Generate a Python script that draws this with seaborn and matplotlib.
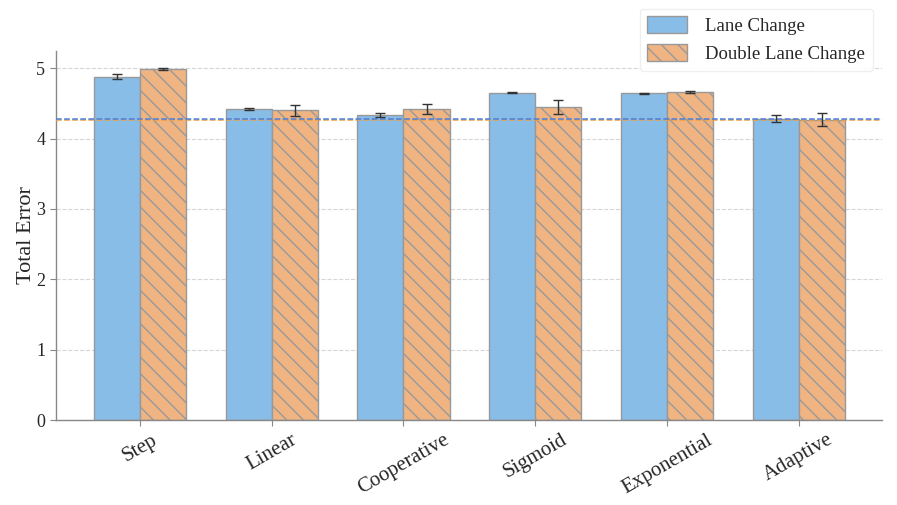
import numpy as np
import pandas as pd
import matplotlib
matplotlib.use("Agg")
import matplotlib.pyplot as plt
import seaborn as sns

# === Data ===
methods = ["Step", "Linear", "Cooperative", "Sigmoid", "Exponential", "Adaptive"]
lane_change = [4.88, 4.42, 4.33, 4.65, 4.64, 4.28]
lane_change_err = [0.03, 0.02, 0.03, 0.01, 0.006, 0.05]
double_lane_change = [4.99, 4.40, 4.42, 4.45, 4.66, 4.27]
double_lane_change_err = [0.01, 0.08, 0.07, 0.10, 0.02, 0.09]
series_names = ["Lane Change", "Double Lane Change"]

df = pd.DataFrame({
    "Method": methods * 2,
    "Total Error": lane_change + double_lane_change,
    "Scenario": [series_names[0]] * len(methods) + [series_names[1]] * len(methods),
})

sns.set_style("white")
plt.rcParams["font.family"] = ["Liberation Serif", "DejaVu Serif"]
plt.rcParams["hatch.color"] = "#7d8cab"
plt.rcParams["hatch.linewidth"] = 1.0

colors = ["#88bde8", "#f0b482"]

fig, ax = plt.subplots(figsize=(8.97, 5.05), dpi=100)
fig.subplots_adjust(left=0.062, right=0.983, top=0.90, bottom=0.168)

sns.barplot(data=df, x="Method", y="Total Error", hue="Scenario",
            palette=colors, width=0.7, errorbar=None, ax=ax,
            edgecolor="#999999", linewidth=1.0, saturation=1)

# hatch the second series and add error bars
errs = [lane_change_err, double_lane_change_err]
vals = [lane_change, double_lane_change]
bar_containers = list(ax.containers)
for i, cont in enumerate(bar_containers):
    xs = [p.get_x() + p.get_width() / 2 for p in cont.patches]
    if i == 1:
        for p in cont.patches:
            p.set_hatch("\\\\")
    ax.errorbar(xs, vals[i], yerr=errs[i], fmt="none", ecolor="#333333",
                elinewidth=1.0, capsize=3.5, capthick=1.0, zorder=5)

# reference lines at adaptive values
ax.axhline(double_lane_change[-1], color="#f0a040", linestyle="--", linewidth=1.1, zorder=4)
ax.axhline(lane_change[-1], color="#4a7fe0", linestyle="--", linewidth=1.1, zorder=4)

ax.set_xlim(-0.64, 5.63)
ax.set_ylim(0, 5.25)
ax.set_yticks([0, 1, 2, 3, 4, 5])
ax.yaxis.grid(True, linestyle="--", color="#d6d6d6", linewidth=0.8)
ax.set_axisbelow(True)
ax.set_xlabel("")
ax.set_ylabel("Total Error", fontsize=16, labelpad=0)
ax.tick_params(axis="y", labelsize=13, left=True, length=4, color="#888888")
ax.tick_params(axis="x", labelsize=15, bottom=True, length=4, color="#888888")
plt.setp(ax.get_xticklabels(), rotation=30, ha="center")

sns.despine(ax=ax)
for s in ["left", "bottom"]:
    ax.spines[s].set_color("#888888")
    ax.spines[s].set_linewidth(1.0)

handles, labels = ax.get_legend_handles_labels()
handles[1].set_hatch("\\\\")
ax.legend(handles, labels, loc="upper right", bbox_to_anchor=(0.989, 1.113),
          borderaxespad=0, fontsize=13.5, frameon=True, framealpha=0.9,
          edgecolor="#eeeeee", handlelength=2.1, handleheight=1.0,
          handletextpad=1.0)

fig.savefig("out.png", dpi=100)
